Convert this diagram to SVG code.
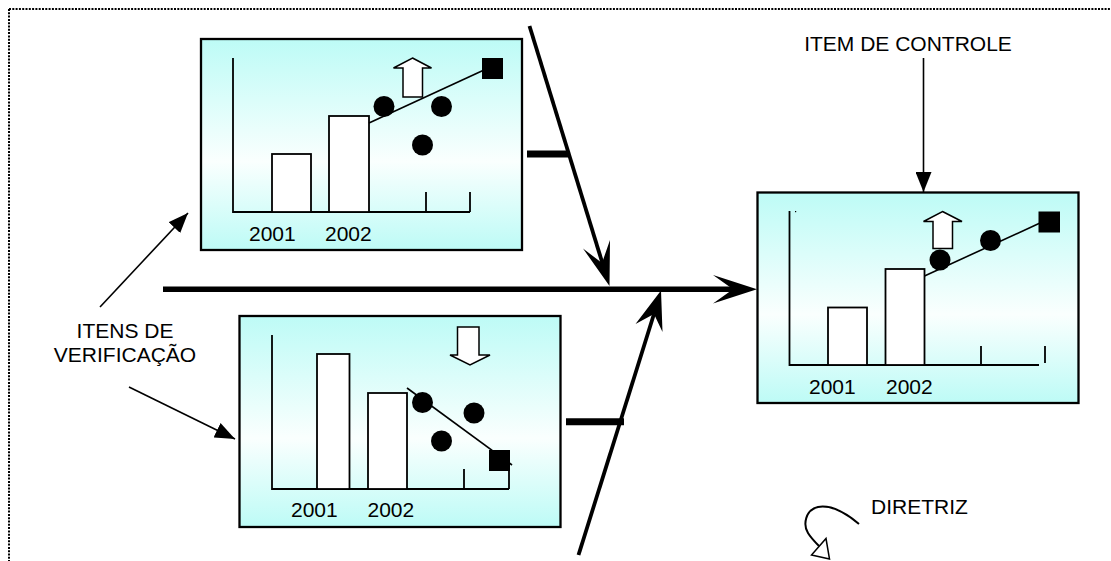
<svg xmlns="http://www.w3.org/2000/svg" width="1111" height="561" viewBox="0 0 1111 561">
  <defs>
    <linearGradient id="panelFill" x1="0" y1="0" x2="0" y2="1">
      <stop offset="0" stop-color="#bdfbf6"/>
      <stop offset="0.58" stop-color="#fafffe"/>
      <stop offset="1" stop-color="#bdfbf6"/>
    </linearGradient>
    <marker id="solidHead" viewBox="0 0 20 16" refX="20" refY="8" markerWidth="20" markerHeight="16" markerUnits="userSpaceOnUse" orient="auto">
      <path d="M0,0 L20,8 L0,16 Z" fill="#000"/>
    </marker>
  </defs>
  <style>
    .panel { fill: url(#panelFill); stroke: #000; stroke-width: 2.3; }
    .axis { fill: none; stroke: #000; stroke-width: 1.8; }
    .bar { fill: #fff; stroke: #000; stroke-width: 1.8; }
    .trend { fill: none; stroke: #000; stroke-width: 1.6; }
    .dot { fill: #000; }
    .hollow { fill: #fff; stroke: #000; stroke-width: 1.5; stroke-linejoin: miter; }
    .lbl { font-family: "Liberation Sans", Arial, sans-serif; font-size: 21px; fill: #000; }
    .thin { fill: none; stroke: #000; stroke-width: 1.6; }
    .spine { fill: none; stroke: #000; stroke-width: 5.5; }
    .rib { fill: none; stroke: #000; stroke-width: 3.8; }
    .stub { fill: none; stroke: #000; stroke-width: 7; }
  </style>

  <rect width="1111" height="561" fill="#fff"/>

  <!-- dotted page frame -->
  <g id="frame">
    <path d="M9,9 H1111 M9,9 V561" fill="none" stroke="#000" stroke-width="2" stroke-dasharray="2 1.3"/>
  </g>

  <!-- upper verification chart -->
  <g id="chart-upper">
    <rect class="panel" x="201" y="39" width="321" height="211"/>
    <path class="axis" d="M233,58 V212 H470 M426,192 V212 M470,192 V212"/>
    <rect class="bar" x="272" y="154" width="39" height="58"/>
    <rect class="bar" x="329" y="116" width="40" height="96"/>
    <line class="trend" x1="369" y1="123" x2="484" y2="70"/>
    <circle class="dot" cx="384" cy="106.5" r="10.5"/>
    <circle class="dot" cx="441.5" cy="106.5" r="10.5"/>
    <circle class="dot" cx="422.5" cy="145" r="10.5"/>
    <rect class="dot" x="482" y="58" width="21" height="21"/>
    <path class="hollow" d="M412.5,58 L431.5,68 H422.5 V97 H403 V68 H393.5 Z"/>
    <text class="lbl" x="249" y="241">2001</text>
    <text class="lbl" x="325" y="241">2002</text>
  </g>

  <!-- lower verification chart -->
  <g id="chart-lower">
    <rect class="panel" x="239.5" y="316" width="321" height="211"/>
    <path class="axis" d="M272,335 V489 H509 M464,469 V489 M509,470 V489"/>
    <rect class="bar" x="317" y="354" width="32.5" height="135"/>
    <rect class="bar" x="368" y="393" width="39" height="96"/>
    <line class="trend" x1="407" y1="388" x2="512" y2="465"/>
    <circle class="dot" cx="422.5" cy="402.5" r="10.5"/>
    <circle class="dot" cx="474" cy="413" r="10.5"/>
    <circle class="dot" cx="441.5" cy="441" r="10.5"/>
    <rect class="dot" x="489" y="450" width="21" height="21"/>
    <path class="hollow" d="M457.5,327 H479 V355 H490 L470,365 L450,355 H457.5 Z"/>
    <text class="lbl" x="291" y="517">2001</text>
    <text class="lbl" x="367.5" y="517">2002</text>
  </g>

  <!-- control chart -->
  <g id="chart-control">
    <rect class="panel" x="757.5" y="192.5" width="321" height="210.5"/>
    <path class="axis" d="M789.5,211 V365 H1039 M981,346 V365 M1045,346 V363"/>
    <rect x="795" y="211" width="1.2" height="1.2" fill="#000"/>
    <rect class="bar" x="828" y="307.5" width="39" height="57.5"/>
    <rect class="bar" x="885.5" y="269" width="39" height="96"/>
    <line class="trend" x1="924.5" y1="276" x2="1040" y2="223"/>
    <circle class="dot" cx="940" cy="260" r="10.5"/>
    <circle class="dot" cx="990.5" cy="240.5" r="10.5"/>
    <rect class="dot" x="1038.5" y="211.5" width="21.5" height="21"/>
    <path class="hollow" d="M942.5,211.5 L962,221.5 H952.5 V248.5 H933 V221.5 H923.5 Z"/>
    <text class="lbl" x="809" y="394">2001</text>
    <text class="lbl" x="886" y="394">2002</text>
  </g>

  <!-- labels -->
  <g id="label-verificacao">
    <text class="lbl" x="125" y="338" text-anchor="middle">ITENS DE</text>
    <text class="lbl" x="125" y="362" text-anchor="middle">VERIFICAÇÃO</text>
  </g>
  <g id="label-controle">
    <text class="lbl" x="908" y="51" text-anchor="middle">ITEM DE CONTROLE</text>
  </g>
  <g id="label-diretriz">
    <text class="lbl" x="871" y="514">DIRETRIZ</text>
  </g>

  <!-- connectors -->
  <g id="connectors">
    <!-- main spine with arrowhead into the control chart -->
    <line class="spine" x1="163" y1="289.3" x2="735" y2="289.3"/>
    <path d="M757,289.3 L713,275 L733,289.3 L713,303.5 Z" fill="#000"/>

    <!-- upper rib -->
    <line class="rib" x1="529.5" y1="26" x2="603" y2="265"/>
    <path d="M609.5,286 L610,240 L602,263 L583,248.5 Z" fill="#000"/>
    <line class="stub" x1="527" y1="154" x2="568" y2="154"/>

    <!-- lower rib -->
    <line class="rib" x1="578.5" y1="555" x2="654" y2="314"/>
    <path d="M661,290.5 L662.5,332 L654,314 L635.5,324 Z" fill="#000"/>
    <line class="stub" x1="566" y1="421.7" x2="624" y2="421.7"/>

    <!-- label pointers -->
    <line class="thin" x1="100" y1="307" x2="188" y2="213" marker-end="url(#solidHead)"/>
    <line class="thin" x1="129" y1="387" x2="235" y2="439" marker-end="url(#solidHead)"/>
    <line class="thin" x1="923.5" y1="58" x2="923.5" y2="192" marker-end="url(#solidHead)"/>

    <!-- curved pointer beside DIRETRIZ -->
    <path d="M859,524 C845,512 830,505 818,507 C805,510 803,525 808,533 C811,538 815,542 819,546" fill="none" stroke="#000" stroke-width="2"/>
    <path class="hollow" d="M811.5,555 L829.5,559 L826,538.5 Z"/>
  </g>
</svg>
